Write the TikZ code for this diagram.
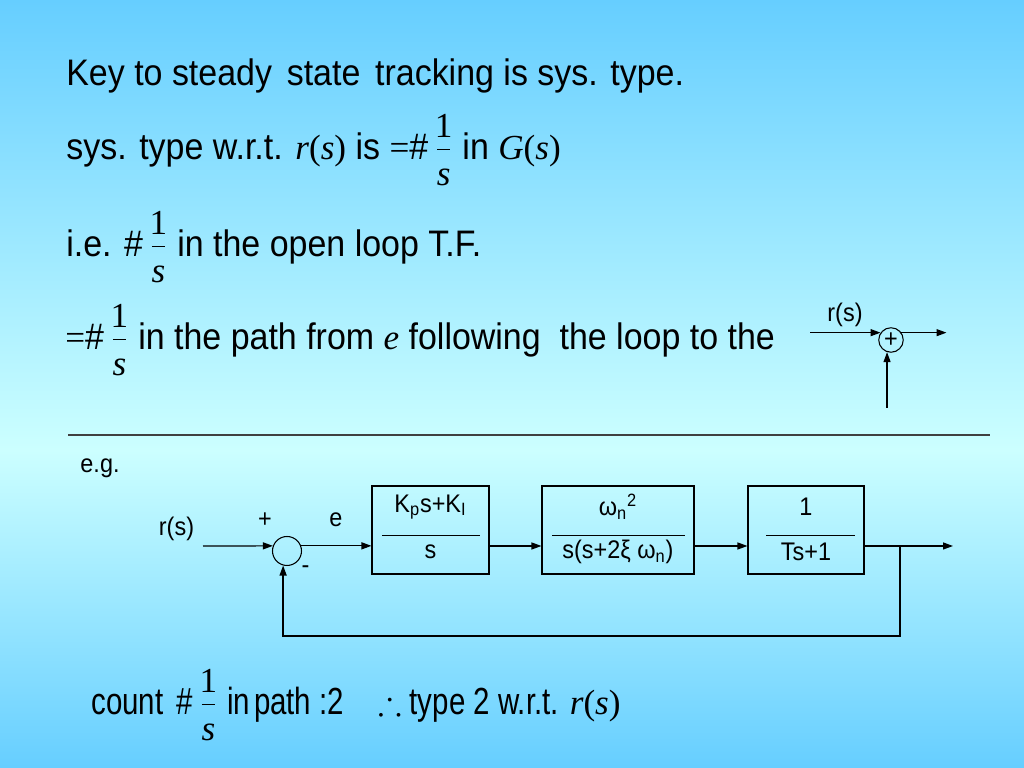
\documentclass[tikz,border=0pt]{standalone}
\usepackage{fontspec}
\usepackage{amssymb}
\setmainfont{Liberation Sans}[FakeStretch=0.92]
\newfontfamily\tms{Liberation Serif}
\usetikzlibrary{arrows.meta}
\definecolor{slidetop}{RGB}{102,206,255}
\definecolor{slidemid}{RGB}{204,255,255}
\newsavebox\fnum
\newsavebox\fden
\newcommand\tv[1]{{\tms\fontsize{20}{24}\selectfont #1}}
\newcommand\fracs[2]{{\tms\fontsize{20}{24}\selectfont
  \sbox\fnum{#1}\sbox\fden{\itshape #2}%
  \kern5pt\makebox[7.5pt]{\raisebox{13pt}{\usebox\fnum}}\kern-7.5pt
  \makebox[7.5pt]{\raisebox{-14.5pt}{\usebox\fden}}\kern-7.5pt
  \rule[5.7pt]{7.5pt}{0.8pt}\kern7pt}}
\tikzset{
  slidetext/.style={anchor=base west,inner sep=0pt,font=\fontsize{21}{25}\selectfont},
  dlabel/.style={inner sep=0pt,font=\fontsize{14.5}{17}\selectfont},
  sumnode/.style={draw,circle,inner sep=0pt,line width=0.6pt,font=\fontsize{14.5}{17}\selectfont},
  blockbox/.style={draw,line width=0.6pt,minimum height=1.76cm},
  sig/.style={line width=0.7pt,-{Triangle[length=2mm,width=1.4mm]}}
}
\begin{document}
\begin{tikzpicture}
  \useasboundingbox (0,0) rectangle (20.48,15.36);
  \shade[top color=slidetop,bottom color=slidemid] (0,6.36) rectangle (20.48,15.36);
  \shade[top color=slidemid,bottom color=slidetop] (0,0) rectangle (20.48,6.36);
  % text lines
  \node[slidetext] (title) at (1.32,13.64) {Key to steady\hspace{0.4em}state\hspace{0.4em}tracking is sys. type.};
  \node[slidetext] (def) at (1.32,12.16) {sys. type w.r.t. \tv{\textit{r}(\textit{s})} is \tv{=}\#\fracs{1}{s}in \tv{\textit{G}(\textit{s})}};
  \node[slidetext] (ie) at (1.32,10.22) {i.e. \#\fracs{1}{s}in the open loop T.F.};
  \node[slidetext] (path) at (1.3,8.36) {\tv{=}\#\fracs{1}{s}in the path from \tv{\textit{e}} following\ \ the loop to the};
  % small summing point
  \node[sumnode,minimum size=0.49cm] (s1) at (17.82,8.56) {+};
  \node[dlabel] (s1r) at (16.9,9.06) {r(s)};
  \coordinate (s1in) at (16.2,8.7);
  \coordinate (s1out) at (18.93,8.7);
  \coordinate (s1up) at (17.8,7.2);
  \draw[sig] (s1.145 -| s1in) -- (s1.145);
  \draw[sig] (s1.35) -- (s1.35 -| s1out);
  \draw[sig] (s1.252 |- s1up) -- (s1.252);
  % separator
  \draw[line width=0.6pt,black!75] (1.36,6.66) -- (19.8,6.66);
  \node[dlabel] (eg) at (2.0,6.0) {e.g.};
  % block diagram
  \node[sumnode,minimum size=0.58cm] (sum) at (5.74,4.34) {};
  \node[dlabel] (rs) at (3.53,4.79) {r(s)};
  \node[dlabel] (plus) at (5.3,4.96) {+};
  \node[dlabel] (err) at (6.72,4.96) {e};
  \node[dlabel] (minus) at (6.11,3.96) {-};
  \node[blockbox,minimum width=2.34cm] (b1) at (8.61,4.76) {};
  \node[blockbox,minimum width=3.04cm] (b2) at (12.36,4.76) {};
  \node[blockbox,minimum width=2.32cm] (b3) at (16.12,4.76) {};
  \node[dlabel] (b1num) at (8.61,5.22) {K\textsubscript{p}s+K\textsubscript{I}};
  \node[dlabel] (b1den) at (8.61,4.32) {s};
  \draw[line width=0.5pt] (7.64,4.66) -- (9.6,4.66);
  \node[dlabel] (b2num) at (12.36,5.22) {ω\textsubscript{n}\textsuperscript{2}};
  \node[dlabel] (b2den) at (12.36,4.32) {s(s+2ξ ω\textsubscript{n})};
  \draw[line width=0.5pt] (11.04,4.66) -- (13.7,4.66);
  \node[dlabel] (b3num) at (16.12,5.22) {1};
  \node[dlabel] (b3den) at (16.12,4.32) {Ts+1};
  \draw[line width=0.5pt] (15.32,4.66) -- (17.1,4.66);
  \coordinate (rin) at (4.06,4.44);
  \coordinate (out) at (19.06,4.44);
  \coordinate (br) at (18.0,4.44);
  \coordinate (fb) at (18.0,2.64);
  \draw[sig] (rin) -- (sum.160);
  \draw[sig] (sum.20) -- (sum.20 -| b1.west);
  \draw[sig] (b1.east |- rin) -- (b2.west |- rin);
  \draw[sig] (b2.east |- rin) -- (b3.west |- rin);
  \draw[sig] (b3.east |- rin) -- (out);
  \draw[sig] (br) -- (fb) -| (sum.255);
  % conclusion
  \node[slidetext,font=\fontsize{21.5}{25}\selectfont\addfontfeatures{FakeStretch=0.78}] (count) at (1.82,1.06)
    {count\hspace{0.35em}\#\fracs{1}{s}in\hspace{0.1em}path :2\hspace{0.9em}\tv{$\therefore$} type 2 w.r.t. \tv{\textit{r}(\textit{s})}};
\end{tikzpicture}
\end{document}
